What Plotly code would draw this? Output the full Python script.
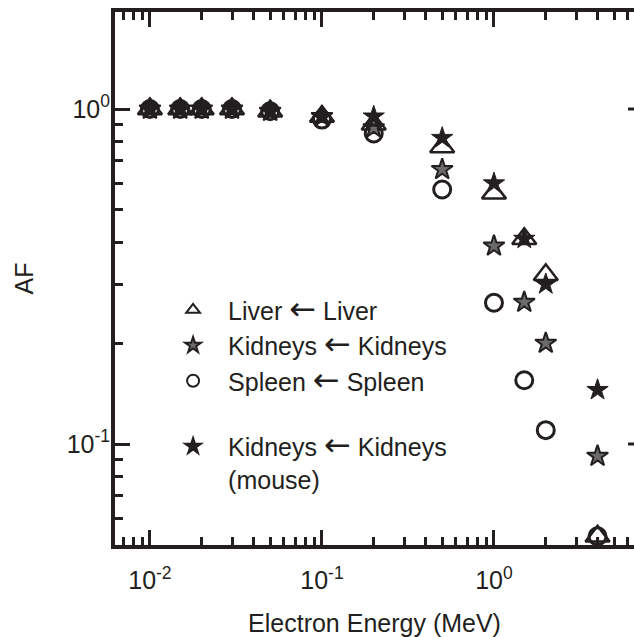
import plotly.graph_objects as go

# Electron energies (MeV) and absorbed fractions for each source/target pair
energy_mev = [0.01, 0.015, 0.02, 0.03, 0.05, 0.1, 0.2, 0.5, 1.0, 1.5, 2.0, 4.0]
af_liver = [1.0, 1.0, 1.0, 1.0, 0.985, 0.95, 0.90, 0.77, 0.56, 0.41, 0.32, 0.053]
af_kidneys = [1.0, 1.0, 1.0, 1.0, 0.985, 0.95, 0.88, 0.66, 0.39, 0.265, 0.20, 0.092]
af_spleen = [1.0, 1.0, 1.0, 1.0, 0.985, 0.93, 0.845, 0.575, 0.264, 0.155, 0.11, 0.053]
af_kidneys_mouse = [1.0, 1.0, 1.0, 1.0, 0.985, 0.95, 0.95, 0.82, 0.60, 0.41, 0.30, 0.145]

# Axis ticks
x_major = [0.01, 0.1, 1]
x_major_text = ["10<sup>-2</sup>", "10<sup>-1</sup>", "10<sup>0</sup>"]
x_minor = [0.007, 0.008, 0.009,
           0.02, 0.03, 0.04, 0.05, 0.06, 0.07, 0.08, 0.09,
           0.2, 0.3, 0.4, 0.5, 0.6, 0.7, 0.8, 0.9,
           2, 3, 4, 5, 6]
y_major = [0.1, 1]
y_major_text = ["10<sup>-1</sup>", "10<sup>0</sup>"]
y_minor = [0.06, 0.07, 0.08, 0.09,
           0.2, 0.3, 0.4, 0.5, 0.6, 0.7, 0.8, 0.9]

INK = "#231f20"
FONT = "Liberation Sans, Arial, Helvetica, sans-serif"
ARROW = "<span style='font-family:DejaVu Sans;font-size:32px'>\u2190</span>"

X_RANGE = [-2.203, 0.814]
Y_RANGE = [-1.3015, 0.2896]

fig = go.Figure()

fig.add_trace(go.Scatter(
    x=energy_mev, y=af_liver, mode="markers", name=f"Liver {ARROW} Liver",
    legendgroup="rat", cliponaxis=False,
    marker=dict(symbol="triangle-up-open", size=21, color=INK,
                line=dict(width=2.5, color=INK)),
))
fig.add_trace(go.Scatter(
    x=energy_mev, y=af_kidneys, mode="markers",
    name=f"Kidneys {ARROW} Kidneys",
    legendgroup="rat", cliponaxis=False,
    marker=dict(symbol="star", size=16, color="#6b6b6b",
                line=dict(width=2, color=INK)),
))
fig.add_trace(go.Scatter(
    x=energy_mev, y=af_spleen, mode="markers", name=f"Spleen {ARROW} Spleen",
    legendgroup="rat", cliponaxis=False,
    marker=dict(symbol="circle-open", size=17, color=INK,
                line=dict(width=3, color=INK)),
))
fig.add_trace(go.Scatter(
    x=energy_mev, y=af_kidneys_mouse, mode="markers",
    name=f"Kidneys {ARROW} Kidneys<br>(mouse)",
    legendgroup="mouse", cliponaxis=False,
    marker=dict(symbol="star", size=16, color=INK,
                line=dict(width=1, color=INK)),
))

axis_common = dict(
    type="log",
    showline=True, linewidth=4, linecolor=INK,
    ticks="inside", ticklen=15, tickwidth=3, tickcolor=INK,
    showgrid=False, zeroline=False,
    tickfont=dict(family=FONT, size=25, color=INK),
)

# Short inward ticks at the major AF values along the right edge
right_ticks = [
    dict(type="line", xref="paper", xsizemode="pixel", xanchor=1,
         x0=-6, x1=0, yref="y", y0=v, y1=v,
         line=dict(color=INK, width=3))
    for v in y_major
]

fig.update_layout(
    width=634, height=637,
    margin=dict(l=115, r=0, t=12, b=92),
    plot_bgcolor="white", paper_bgcolor="white",
    font=dict(family=FONT, size=25, color=INK),
    shapes=right_ticks,
    xaxis=dict(
        **axis_common,
        range=X_RANGE, mirror="ticks",
        tickmode="array", tickvals=x_major, ticktext=x_major_text,
        ticklabelstandoff=10,
        minor=dict(tickmode="array", tickvals=x_minor, ticks="inside",
                   ticklen=8, tickwidth=3, tickcolor=INK, showgrid=False),
        title=dict(text="Electron Energy (MeV)", standoff=22,
                   font=dict(family=FONT, size=25, color=INK)),
    ),
    yaxis=dict(
        **axis_common,
        range=Y_RANGE,
        tickmode="array", tickvals=y_major, ticktext=y_major_text,
        ticklabelstandoff=-4,
        minor=dict(tickmode="array", tickvals=y_minor, ticks="inside",
                   ticklen=8, tickwidth=3, tickcolor=INK, showgrid=False),
        title=dict(text="AF", standoff=27,
                   font=dict(family=FONT, size=25, color=INK)),
    ),
    legend=dict(
        x=0.083, y=0.484, xanchor="left", yanchor="top",
        bgcolor="rgba(0,0,0,0)", borderwidth=0,
        font=dict(family=FONT, size=25, color=INK),
        itemwidth=60, itemsizing="constant", valign="top",
        traceorder="grouped", tracegroupgap=30,
    ),
    showlegend=True,
)

fig.write_html("out.html")
